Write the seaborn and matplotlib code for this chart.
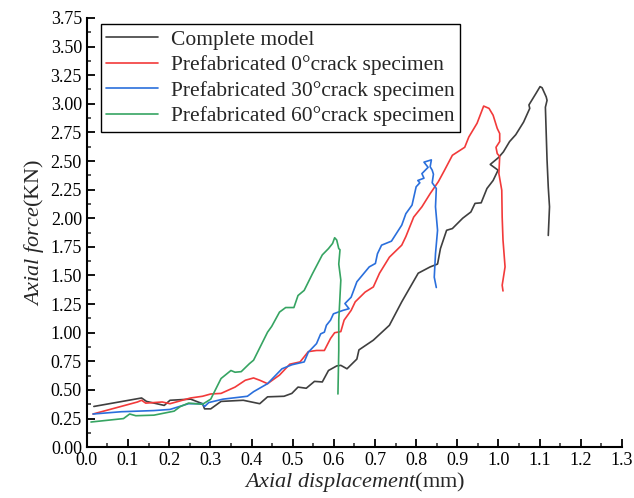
import numpy as np
import pandas as pd
import seaborn as sns
import matplotlib.pyplot as plt
from matplotlib.ticker import MultipleLocator, FormatStrFormatter

complete_x = [0.017, 0.133, 0.145, 0.188, 0.202, 0.227, 0.252, 0.281, 0.286, 0.301, 0.326, 0.380,
              0.420, 0.439, 0.479, 0.498, 0.513, 0.533, 0.553, 0.572, 0.587, 0.607, 0.617, 0.632,
              0.656, 0.661, 0.696, 0.735, 0.765, 0.805, 0.834, 0.852, 0.859, 0.874, 0.888, 0.913,
              0.933, 0.943, 0.958, 0.972, 0.987, 0.999, 0.980, 1.000, 1.012, 1.027, 1.042, 1.061,
              1.076, 1.074, 1.091, 1.101, 1.106, 1.116, 1.118, 1.114, 1.116, 1.118, 1.121, 1.124, 1.121]
complete_y = [0.356, 0.43, 0.40, 0.365, 0.41, 0.415, 0.42, 0.38, 0.335, 0.335, 0.40, 0.41,
              0.38, 0.44, 0.445, 0.47, 0.525, 0.515, 0.575, 0.57, 0.67, 0.71, 0.715, 0.685,
              0.77, 0.85, 0.935, 1.065, 1.27, 1.52, 1.575, 1.60, 1.735, 1.895, 1.91, 2.00,
              2.055, 2.13, 2.135, 2.26, 2.33, 2.42, 2.47, 2.53, 2.58, 2.67, 2.73, 2.84,
              2.96, 2.99, 3.09, 3.15, 3.14, 3.06, 3.03, 2.97, 2.74, 2.51, 2.27, 2.10, 1.85]

crack0_x = [0.015, 0.123, 0.133, 0.143, 0.183, 0.202, 0.252, 0.281, 0.301, 0.326, 0.360, 0.385,
            0.405, 0.420, 0.439, 0.468, 0.493, 0.518, 0.538, 0.558, 0.577, 0.592, 0.602, 0.617,
            0.625, 0.642, 0.652, 0.676, 0.696, 0.711, 0.735, 0.765, 0.775, 0.794, 0.814, 0.834,
            0.854, 0.869, 0.888, 0.918, 0.928, 0.948, 0.964, 0.977, 0.987, 0.997, 1.003, 1.003,
            0.994, 0.997, 1.003, 1.001, 1.008, 1.009, 1.011, 1.016, 1.011, 1.009, 1.011]
crack0_y = [0.29, 0.395, 0.41, 0.385, 0.395, 0.38, 0.43, 0.445, 0.465, 0.47, 0.525, 0.585,
            0.605, 0.585, 0.555, 0.63, 0.725, 0.745, 0.835, 0.845, 0.845, 0.95, 1.00, 1.01,
            1.11, 1.195, 1.27, 1.355, 1.40, 1.52, 1.66, 1.765, 1.84, 2.01, 2.10, 2.215,
            2.32, 2.42, 2.55, 2.62, 2.71, 2.83, 2.98, 2.96, 2.90, 2.785, 2.74, 2.67,
            2.62, 2.565, 2.54, 2.39, 2.245, 2.01, 1.81, 1.575, 1.46, 1.415, 1.365]

crack30_x = [0.015, 0.084, 0.163, 0.202, 0.247, 0.281, 0.286, 0.296, 0.331, 0.390, 0.405, 0.439,
             0.474, 0.498, 0.528, 0.538, 0.558, 0.568, 0.577, 0.582, 0.592, 0.599, 0.622, 0.637,
             0.627, 0.642, 0.656, 0.686, 0.701, 0.706, 0.716, 0.740, 0.765, 0.775, 0.790, 0.800,
             0.809, 0.804, 0.819, 0.814, 0.829, 0.819, 0.837, 0.834, 0.839, 0.842, 0.839, 0.849,
             0.847, 0.852, 0.847, 0.844, 0.849]
crack30_y = [0.29, 0.31, 0.32, 0.33, 0.38, 0.38, 0.355, 0.39, 0.42, 0.445, 0.485, 0.555,
             0.685, 0.72, 0.745, 0.83, 0.905, 0.99, 1.005, 1.065, 1.11, 1.165, 1.195, 1.21,
             1.255, 1.31, 1.445, 1.575, 1.605, 1.69, 1.765, 1.80, 1.94, 2.04, 2.115, 2.275,
             2.31, 2.33, 2.35, 2.39, 2.445, 2.49, 2.51, 2.45, 2.42, 2.385, 2.31, 2.26,
             2.10, 1.895, 1.69, 1.485, 1.395]

crack60_x = [0.010, 0.089, 0.104, 0.119, 0.163, 0.212, 0.227, 0.247, 0.281, 0.301, 0.326, 0.350,
             0.360, 0.375, 0.395, 0.405, 0.439, 0.449, 0.468, 0.483, 0.503, 0.513, 0.528, 0.548,
             0.572, 0.587, 0.597, 0.602, 0.607, 0.612, 0.615, 0.612, 0.617, 0.612, 0.612, 0.610]
crack60_y = [0.22, 0.25, 0.29, 0.275, 0.28, 0.315, 0.355, 0.385, 0.375, 0.42, 0.60, 0.67,
             0.655, 0.66, 0.73, 0.76, 1.005, 1.055, 1.18, 1.22, 1.22, 1.325, 1.37, 1.515,
             1.68, 1.735, 1.78, 1.83, 1.81, 1.735, 1.725, 1.60, 1.46, 1.11, 0.845, 0.465]

names = ["Complete model",
         "Prefabricated 0°crack specimen",
         "Prefabricated 30°crack specimen",
         "Prefabricated 60°crack specimen"]
colors = ["#3f3f3f", "#f23a3a", "#2a6fdc", "#36a462"]

frames = []
for name, xs, ys in zip(names, [complete_x, crack0_x, crack30_x, crack60_x],
                        [complete_y, crack0_y, crack30_y, crack60_y]):
    frames.append(pd.DataFrame({"disp": xs, "force": ys, "series": name,
                                "order": np.arange(len(xs))}))
df = pd.concat(frames, ignore_index=True)

sns.set_style("ticks")
plt.rcParams["font.family"] = ["Liberation Serif", "DejaVu Serif"]
plt.rcParams["mathtext.fontset"] = "custom"
plt.rcParams["mathtext.it"] = "Liberation Serif:italic"
plt.rcParams["mathtext.rm"] = "Liberation Serif"

fig = plt.figure(figsize=(6.34, 4.98), dpi=100)
ax = fig.add_axes([0.137, 0.102, 0.844, 0.862])

sns.lineplot(data=df, x="disp", y="force", hue="series", hue_order=names,
             palette=colors, sort=False, estimator=None, units="series",
             linewidth=1.2, ax=ax)

ax.set_xlim(0, 1.3)
ax.set_ylim(0, 3.75)
ax.xaxis.set_major_locator(MultipleLocator(0.1))
ax.xaxis.set_minor_locator(MultipleLocator(0.05))
ax.yaxis.set_major_locator(MultipleLocator(0.25))
ax.yaxis.set_minor_locator(MultipleLocator(0.125))
ax.xaxis.set_major_formatter(FormatStrFormatter("%.1f"))
ax.yaxis.set_major_formatter(FormatStrFormatter("%.2f"))
ax.tick_params(which="major", direction="in", length=6, width=1.3, labelsize=13, colors="black")
ax.tick_params(which="minor", direction="in", length=3, width=1.1)
for s in ["top", "right"]:
    ax.spines[s].set_visible(False)
for s in ["left", "bottom"]:
    ax.spines[s].set_linewidth(1.5)
    ax.spines[s].set_color("black")

ax.set_xlabel(r"$\mathit{Axial\ displacement}$(mm)", fontsize=16, labelpad=1)
ax.set_ylabel(r"$\mathit{Axial\ force}$(KN)", fontsize=16, labelpad=3)

leg = ax.legend(loc="upper left", bbox_to_anchor=(0.018, 0.995), fontsize=15.5, frameon=True,
                fancybox=False, edgecolor="black", handlelength=2.4, handletextpad=0.6,
                borderpad=0.25, labelspacing=0.25, borderaxespad=0.2)
leg.get_frame().set_linewidth(1.0)
leg.get_frame().set_alpha(1)

fig.savefig("out.png", dpi=100)
